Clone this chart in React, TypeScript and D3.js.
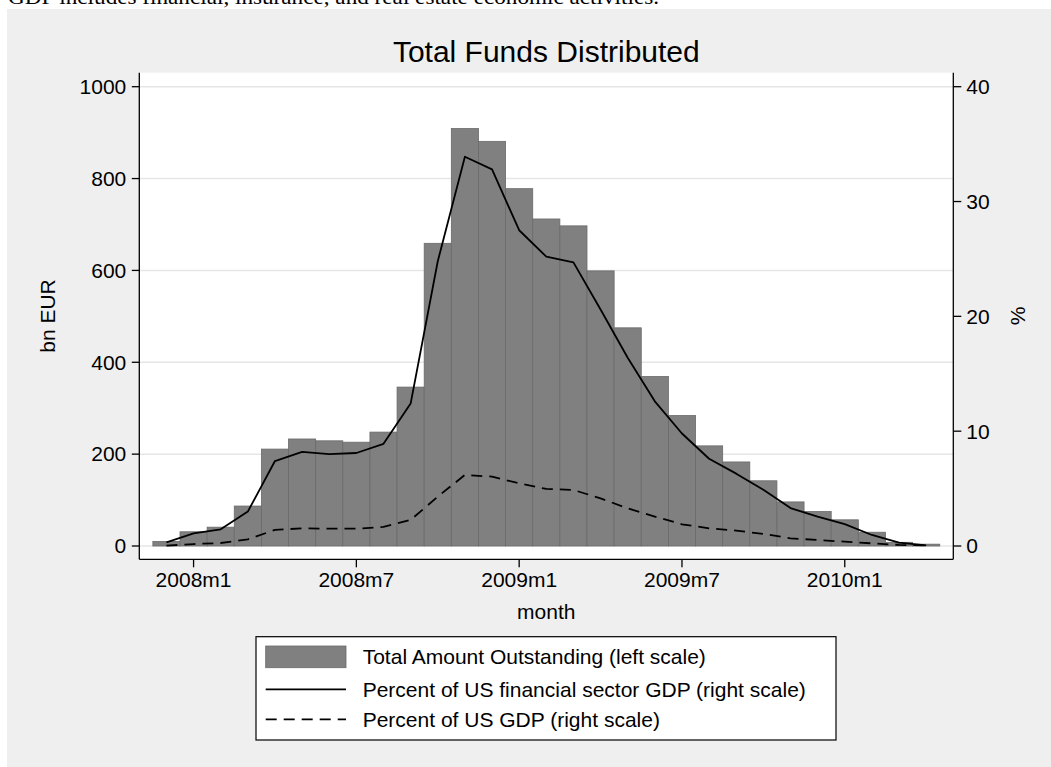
import React from "react";
import * as d3 from "d3";

const months = [
  "2007m12","2008m1","2008m2","2008m3","2008m4","2008m5","2008m6","2008m7","2008m8","2008m9","2008m10","2008m11","2008m12",
  "2009m1","2009m2","2009m3","2009m4","2009m5","2009m6","2009m7","2009m8","2009m9","2009m10","2009m11","2009m12",
  "2010m1","2010m2","2010m3","2010m4",
];
const totalAmount = [10,31,41,87,211,233,229,226,248,346,659,909,881,778,712,697,599,475,369,284,218,183,142,96,75,57,30,8,4];
const pctFinGDP = [0.32,1.1,1.45,3.0,7.4,8.2,8.0,8.1,8.9,12.4,24.8,33.9,32.8,27.5,25.2,24.7,20.6,16.4,12.6,9.8,7.6,6.3,4.9,3.3,2.55,1.9,0.96,0.3,0.06];
const pctGDP = [0.03,0.17,0.26,0.58,1.4,1.54,1.51,1.51,1.66,2.27,4.3,6.19,6.04,5.46,4.97,4.88,4.15,3.28,2.56,1.89,1.54,1.34,1.05,0.67,0.52,0.38,0.23,0.09,0.06];
const xTickLabels = ["2008m1","2008m7","2009m1","2009m7","2010m1"];
const leftTicks = [0,200,400,600,800,1000];
const rightTicks = [0,10,20,30,40];
const legendLabels = [
  "Total Amount Outstanding (left scale)",
  "Percent of US financial sector GDP (right scale)",
  "Percent of US GDP (right scale)",
];
const noteText = "GDP includes financial, insurance, and real estate economic activities.";

const W = 1051, H = 767;
const plotL = 139.3, plotR = 953.3, plotT = 72.7, plotB = 559.3;
const FONT = "'Liberation Sans', Arial, Helvetica, sans-serif";

export default function App() {
  const x = d3.scaleLinear().domain([-1, months.length]).range([plotL, plotR]);
  const yL = d3.scaleLinear().domain([0, 1000]).range([546, 86.7]);
  const yR = d3.scaleLinear().domain([0, 40]).range([546, 86.7]);
  const bw = x(1) - x(0);
  const line = d3.line<number>().x((_, i) => x(i)).y((d) => yR(d));
  const fs = 21;

  return (
    <svg width={W} height={H} style={{ position: "absolute", left: 0, top: 0 }} fontFamily={FONT}>
      <rect x={0} y={0} width={W} height={H} fill="#ffffff" />
      <text x={8} y={4} fontFamily="'Liberation Serif', 'DejaVu Serif', serif" fontSize={21} textLength={651} lengthAdjust="spacingAndGlyphs" fill="#000">
        {noteText}
      </text>
      <rect x={7} y={9} width={W - 7} height={H - 9} fill="#efefef" />
      <rect x={plotL} y={plotT} width={plotR - plotL} height={plotB - plotT} fill="#ffffff" />
      {leftTicks.map((t) => (
        <line key={"g" + t} x1={plotL} x2={plotR} y1={yL(t)} y2={yL(t)} stroke="#e6e6e6" strokeWidth={1.5} />
      ))}
      {totalAmount.map((v, i) => (
        <rect key={"b" + i} x={x(i) - bw / 2} y={yL(v)} width={bw} height={yL(0) - yL(v)} fill="#808080" stroke="#6a6a6a" strokeWidth={0.8} />
      ))}
      <path d={line(pctFinGDP) || ""} fill="none" stroke="#000" strokeWidth={1.8} strokeLinejoin="round" />
      <path d={line(pctGDP) || ""} fill="none" stroke="#000" strokeWidth={1.8} strokeDasharray="11,7" />
      <line x1={plotL} x2={plotL} y1={plotT} y2={plotB} stroke="#000" strokeWidth={1.3} />
      <line x1={plotR} x2={plotR} y1={plotT} y2={plotB} stroke="#000" strokeWidth={1.3} />
      <line x1={plotL} x2={plotR} y1={plotB} y2={plotB} stroke="#000" strokeWidth={1.3} />
      {leftTicks.map((t) => (
        <g key={"lt" + t}>
          <line x1={plotL - 7.5} x2={plotL} y1={yL(t)} y2={yL(t)} stroke="#000" strokeWidth={1.3} />
          <text x={plotL - 13} y={yL(t)} dy="0.35em" textAnchor="end" fontSize={fs}>{t}</text>
        </g>
      ))}
      {rightTicks.map((t) => (
        <g key={"rt" + t}>
          <line x1={plotR} x2={plotR + 8} y1={yR(t)} y2={yR(t)} stroke="#000" strokeWidth={1.3} />
          <text x={plotR + 13} y={yR(t)} dy="0.35em" textAnchor="start" fontSize={fs}>{t}</text>
        </g>
      ))}
      {xTickLabels.map((lab) => {
        const i = months.indexOf(lab);
        return (
          <g key={lab}>
            <line x1={x(i)} x2={x(i)} y1={plotB} y2={plotB + 8} stroke="#000" strokeWidth={1.3} />
            <text x={x(i)} y={587.3} textAnchor="middle" fontSize={fs}>{lab}</text>
          </g>
        );
      })}
      <text x={(plotL + plotR) / 2} y={619} textAnchor="middle" fontSize={fs}>month</text>
      <text transform={`translate(55,316) rotate(-90)`} textAnchor="middle" fontSize={fs}>bn EUR</text>
      <text transform={`translate(1025,316) rotate(-90)`} textAnchor="middle" fontSize={fs}>%</text>
      <text x={(plotL + plotR) / 2} y={61.7} textAnchor="middle" fontSize={30}>Total Funds Distributed</text>
      <rect x={256} y={636.7} width={580} height={103.3} fill="#ffffff" stroke="#000" strokeWidth={1.2} />
      <rect x={265.7} y={646} width={80.3} height={21.7} fill="#808080" stroke="#6a6a6a" strokeWidth={0.8} />
      <line x1={265.7} x2={346} y1={689.3} y2={689.3} stroke="#000" strokeWidth={1.8} />
      <line x1={265.7} x2={346} y1={719.3} y2={719.3} stroke="#000" strokeWidth={1.8} strokeDasharray="11,7" />
      {legendLabels.map((l, i) => (
        <text key={l} x={362.7} y={[664, 696.5, 726.5][i]} fontSize={fs}>{l}</text>
      ))}
    </svg>
  );
}
